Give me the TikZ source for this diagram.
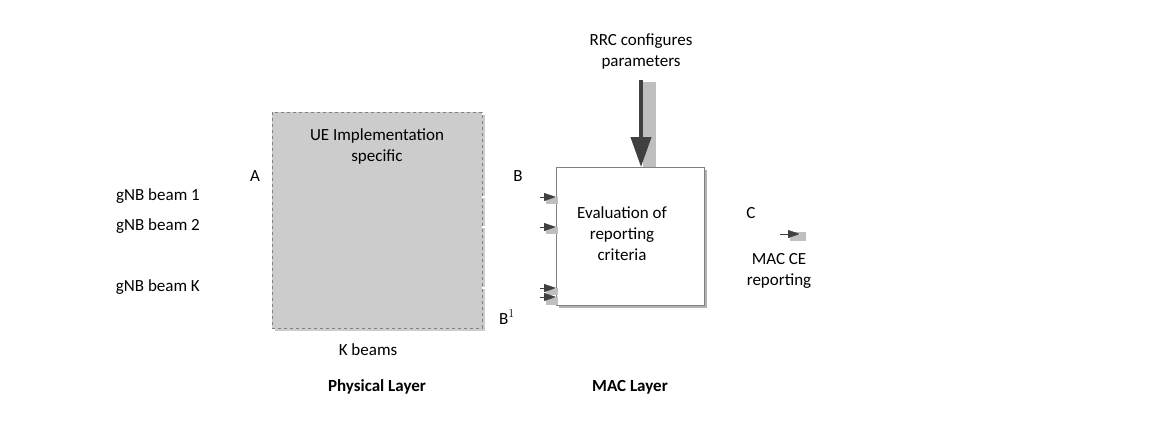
\documentclass[tikz,border=0pt]{standalone}
\usepackage{fontspec}
\setmainfont{Carlito}
\usetikzlibrary{arrows.meta}
\begin{document}
\begin{tikzpicture}[x=1pt,y=-1pt,
  lbl/.style={font=\fontsize{17}{21}\selectfont, align=center, inner sep=0pt},
  dline/.style={draw=gray!80, double=white, double distance=1.5pt, line width=0.5pt},
  arr/.style={-{Triangle[length=12pt,width=8pt]}, color=black!75},
  shad/.style={fill=black!25, draw=none}]
\useasboundingbox (0,0) rectangle (1158,426);
% UE box
\fill[black!20] (275,115) rectangle (485,331);
\node[draw=gray, dashed, fill=black!20, minimum width=210, minimum height=216, anchor=north west, inner sep=0pt] (ue) at (272,112) {};
\node[lbl] (uet) at (377,146) {UE Implementation\\specific};
% Eval box
\fill[black!30] (559,170) rectangle (707,308);
\node[draw=gray, fill=white, minimum width=148, minimum height=138, anchor=north west, inner sep=0pt] (ev) at (556,167) {};
\node[lbl] (evt) at (622,234) {Evaluation of\\reporting\\criteria};
% inputs
\foreach \y/\t [count=\i] in {197/gNB beam 1,227/gNB beam 2,288/gNB beam K}{
  \coordinate (in\i) at (245,\y);
  \coordinate (ue\i) at (272,\y);
  \draw[dline] (in\i) -- (ue\i);
  \node[lbl, anchor=east] (g\i) at (200,\y-1) {\t};
  \coordinate (o\i) at (482,\y);
  \coordinate (e\i) at (556,\y);
  \fill[shad] (546,\y) rectangle (558,\y+7);
  \draw[dline] (o\i) -- (e\i);
  \draw[arr] (540,\y) -- (e\i);
}
\coordinate (b1s) at (520,297);
\coordinate (b1e) at (556,297);
\fill[shad] (546,297) rectangle (558,305);
\draw[dline] (b1s) -- (b1e);
\draw[arr] (540,297) -- (b1e);
% C
\coordinate (cs) at (715,234);
\coordinate (ce) at (800,234);
\fill[shad] (790,232) rectangle (806,241);
\draw[dline] (cs) -- (ce);
\draw[arr] (780,234) -- (ce);
% RRC
\coordinate (rs) at (641,80);
\fill[shad] (643,82) rectangle (656,167);
\draw[-{Triangle[length=30pt,width=20pt]}, line width=4pt, black!75] (rs) -- (ev.north -| rs);
% labels
\node[lbl] (rrc) at (641,51) {RRC configures\\parameters};
\node[lbl] (A) at (255,176) {A};
\node[lbl] (B) at (518,176) {B};
\node[lbl] (B1) at (507,317) {B$^{1}$};
\node[lbl] (C) at (751,213) {C};
\node[lbl] (mac) at (779,271) {MAC CE\\reporting};
\node[lbl] (kb) at (368,350) {K beams};
\node[lbl, font=\fontsize{17}{21}\selectfont\bfseries] (pl) at (377,387) {Physical Layer};
\node[lbl, font=\fontsize{17}{21}\selectfont\bfseries] (ml) at (630,387) {MAC Layer};
\end{tikzpicture}
\end{document}
